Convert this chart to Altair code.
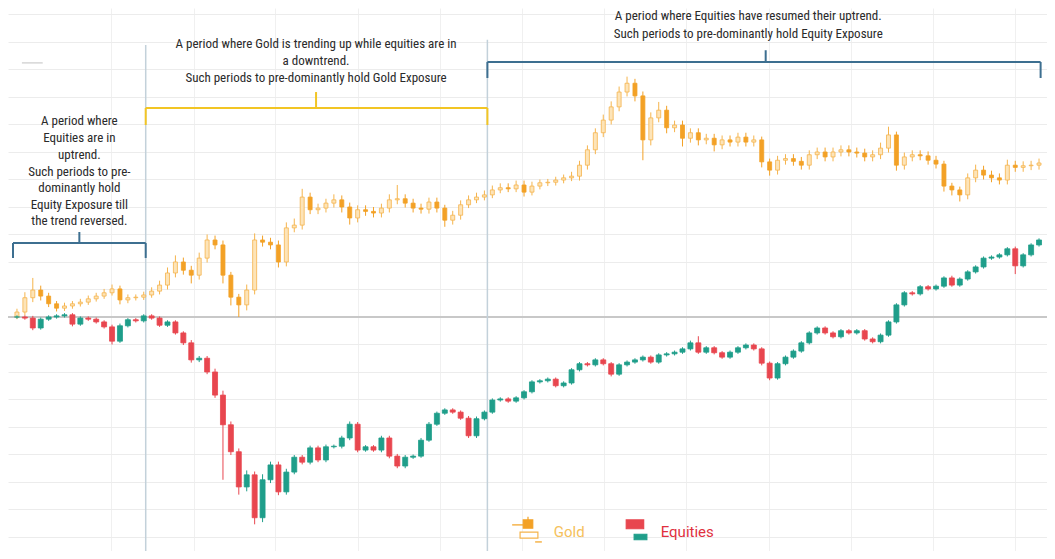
import altair as alt
import pandas as pd

# ---------------- data (percent change from common start) ----------------
gold_close = [
    0.9, 3.5, 4.9, 3.8, 2.4, 1.6, 2.0, 2.4, 2.7, 3.3,
    3.8, 4.4, 5.1, 3.1, 3.5, 3.6, 4.0, 4.7, 5.8, 8.0,
    10.0, 8.5, 7.6, 10.7, 14.0, 13.1, 7.6, 3.6, 2.2, 4.9,
    14.0, 13.6, 13.1, 10.0, 16.2, 16.7, 21.8, 19.5, 19.8, 20.7,
    21.3, 20.0, 18.0, 19.5, 19.2, 18.9, 19.8, 21.3, 21.5, 20.7,
    19.8, 19.6, 20.9, 19.8, 17.6, 18.5, 20.4, 21.3, 21.8, 22.2,
    23.1, 23.5, 23.3, 24.0, 22.7, 23.8, 24.4, 24.5, 24.9, 25.3,
    25.6, 27.6, 30.4, 33.5, 35.8, 38.2, 40.9, 42.5, 40.2, 32.2,
    36.2, 37.6, 34.4, 34.9, 32.5, 33.5, 32.2, 32.5, 31.3, 32.2,
    31.8, 32.7, 31.8, 32.2, 28.2, 26.7, 28.5, 28.8, 28.3, 27.6,
    29.5, 30.0, 29.1, 30.0, 30.4, 30.0, 29.8, 29.1, 29.5, 30.7,
    33.1, 27.6, 29.1, 29.5, 29.3, 28.5, 27.8, 23.8, 23.1, 22.2,
    25.3, 26.7, 25.8, 25.3, 24.9, 27.6, 27.2, 27.5, 27.6, 28.0,
]
gold_wick_up = [
    0.6, 1.0, 2.2, 0.8, 0.6, 0.5, 0.6, 0.5, 0.6, 0.6,
    0.6, 0.7, 0.8, 0.6, 0.6, 0.5, 0.6, 0.7, 0.8, 1.0,
    1.2, 0.8, 0.8, 1.0, 1.0, 0.8, 0.8, 0.6, 0.6, 1.0,
    1.2, 0.8, 0.8, 0.8, 1.0, 1.2, 1.5, 0.8, 0.8, 0.8,
    1.0, 0.8, 0.8, 0.8, 0.8, 0.8, 0.8, 1.0, 2.5, 0.8,
    0.8, 0.8, 0.8, 0.8, 0.6, 0.8, 0.8, 0.8, 0.8, 0.8,
    0.8, 0.8, 0.8, 0.8, 0.8, 0.8, 0.6, 0.6, 0.6, 0.6,
    0.8, 0.8, 0.8, 0.8, 1.0, 1.0, 1.0, 1.2, 0.8, 0.8,
    1.0, 1.5, 0.8, 0.8, 0.8, 0.8, 0.8, 0.8, 0.8, 0.8,
    0.8, 0.8, 0.8, 0.8, 0.6, 0.6, 0.8, 0.8, 0.8, 0.8,
    0.8, 0.8, 0.8, 0.8, 0.8, 0.8, 0.8, 0.8, 0.8, 1.0,
    1.5, 0.6, 0.8, 0.8, 0.8, 0.8, 0.8, 0.6, 0.6, 0.6,
    0.8, 1.0, 0.8, 0.8, 0.8, 1.0, 0.8, 0.8, 0.8, 0.8,
]
gold_wick_dn = [
    0.4, 0.6, 0.8, 0.8, 0.6, 0.6, 0.5, 0.5, 0.5, 0.5,
    0.5, 0.5, 0.5, 0.8, 0.6, 0.5, 0.5, 0.5, 0.6, 0.8,
    0.8, 0.8, 1.5, 0.8, 0.8, 0.8, 1.5, 1.5, 2.2, 1.0,
    0.8, 0.8, 0.8, 1.0, 0.8, 0.8, 0.8, 0.8, 0.8, 0.8,
    0.8, 1.0, 1.2, 0.8, 0.8, 0.8, 0.8, 0.8, 0.8, 0.8,
    0.8, 0.8, 0.8, 0.8, 1.2, 0.8, 0.8, 0.6, 0.6, 0.6,
    0.6, 0.6, 0.6, 0.6, 0.8, 0.6, 0.6, 0.6, 0.6, 0.6,
    0.6, 0.8, 0.8, 0.8, 0.8, 0.8, 0.8, 0.8, 1.0, 3.7,
    1.0, 0.8, 1.0, 0.8, 1.5, 0.8, 1.0, 0.8, 1.2, 0.8,
    0.8, 0.8, 0.8, 0.8, 1.0, 1.0, 0.8, 0.8, 0.8, 0.8,
    0.8, 0.8, 0.8, 0.8, 0.8, 0.8, 0.8, 0.8, 0.8, 0.8,
    0.8, 1.0, 0.8, 0.8, 0.8, 0.8, 0.8, 1.0, 1.0, 1.2,
    0.8, 0.8, 0.8, 0.8, 0.8, 0.8, 0.8, 0.8, 0.8, 0.8,
]

eq_close = [
    0.0, -0.2, -2.0, -0.4, 0.0, 0.2, 0.4, -1.3, -0.2, -0.4,
    -0.9, -1.8, -4.4, -1.6, -0.5, -0.7, 0.2, -0.2, -1.5, -0.9,
    -2.9, -4.7, -7.8, -7.5, -10.0, -14.2, -19.6, -24.5, -30.9, -28.7,
    -36.5, -29.6, -26.9, -31.8, -28.2, -25.5, -26.4, -23.8, -26.0, -23.6,
    -23.5, -22.0, -19.5, -24.2, -23.6, -24.2, -22.0, -25.3, -27.1, -25.5,
    -25.3, -22.4, -19.5, -17.5, -16.9, -17.3, -18.4, -21.6, -18.5, -17.3,
    -15.1, -14.9, -15.3, -14.7, -13.6, -11.8, -11.6, -11.3, -12.5, -12.0,
    -9.6, -8.5, -8.7, -7.8, -8.5, -10.4, -8.7, -8.2, -7.8, -7.3,
    -8.2, -6.9, -6.7, -6.4, -5.8, -4.7, -6.4, -5.6, -6.5, -7.3,
    -6.4, -5.6, -5.1, -5.8, -8.4, -11.1, -8.5, -7.3, -6.2, -4.7,
    -2.9, -2.0, -2.9, -3.6, -2.5, -2.9, -2.5, -4.0, -4.5, -3.3,
    -0.9, 2.2, 4.4, 4.2, 5.5, 5.1, 5.6, 7.1, 5.8, 6.9,
    8.2, 9.1, 10.7, 10.9, 11.3, 12.4, 9.3, 11.3, 13.1, 14.0,
]
eq_wick_up = [
    0.3, 0.3, 0.4, 0.3, 0.3, 0.3, 0.3, 0.3, 0.3, 0.3,
    0.3, 0.3, 0.4, 0.4, 0.3, 0.3, 0.3, 0.3, 0.3, 0.3,
    0.3, 0.3, 0.5, 0.4, 0.4, 0.6, 0.8, 0.6, 0.6, 0.8,
    0.6, 1.0, 0.6, 0.6, 0.6, 0.4, 0.4, 0.4, 0.4, 0.4,
    0.3, 0.4, 0.5, 0.4, 0.3, 0.3, 0.4, 0.4, 0.4, 0.4,
    0.3, 0.4, 0.4, 0.3, 0.3, 0.3, 0.3, 0.4, 0.4, 0.3,
    0.3, 0.3, 0.3, 0.3, 0.3, 0.3, 0.3, 0.3, 0.3, 0.3,
    0.3, 0.3, 0.3, 0.3, 0.3, 0.3, 0.3, 0.3, 0.3, 0.3,
    0.3, 0.3, 0.3, 0.3, 0.3, 0.4, 1.2, 0.3, 0.3, 0.3,
    0.3, 0.3, 0.3, 0.3, 0.3, 0.3, 0.3, 0.3, 0.3, 0.3,
    0.3, 0.3, 0.3, 0.3, 0.3, 0.3, 0.3, 0.3, 0.3, 0.3,
    0.3, 0.3, 0.3, 0.3, 0.3, 0.3, 0.3, 0.3, 0.4, 0.3,
    0.3, 0.3, 0.3, 0.3, 0.3, 0.3, 0.4, 0.3, 0.3, 0.3,
]
eq_wick_dn = [
    0.3, 0.3, 0.4, 0.3, 0.3, 0.3, 0.3, 0.4, 0.3, 0.3,
    0.3, 0.3, 0.6, 0.3, 0.3, 0.3, 0.3, 0.3, 0.3, 0.3,
    0.3, 0.4, 0.5, 0.4, 0.4, 0.5, 10.0, 0.6, 1.4, 0.8,
    1.2, 0.8, 0.6, 0.6, 0.5, 0.4, 0.4, 0.4, 0.4, 0.4,
    0.3, 0.4, 0.4, 0.4, 0.3, 0.3, 0.4, 0.4, 0.4, 0.4,
    0.3, 0.3, 0.3, 0.3, 0.3, 0.3, 0.3, 0.4, 0.4, 0.3,
    0.3, 0.3, 0.3, 0.3, 0.3, 0.3, 0.3, 0.3, 0.3, 0.3,
    0.3, 0.3, 0.3, 0.3, 0.3, 0.4, 0.3, 0.3, 0.3, 0.3,
    0.3, 0.3, 0.3, 0.3, 0.3, 0.3, 0.3, 0.3, 0.3, 0.3,
    0.3, 0.3, 0.3, 0.3, 0.4, 0.4, 0.3, 0.3, 0.3, 0.3,
    0.3, 0.3, 0.3, 0.3, 0.3, 0.3, 0.3, 0.3, 0.3, 0.3,
    0.3, 0.3, 0.3, 0.3, 0.3, 0.3, 0.3, 0.3, 0.3, 0.3,
    0.3, 0.3, 0.3, 0.3, 0.3, 0.3, 1.5, 0.3, 0.3, 0.3,
]
gold_start = 0.0
eq_start = 0.0

# period boundaries (candle index)
event_t = [16.25, 59.375]
event_top = [49.45, 50.4]

# annotation text
left_lines = ["A period where", "Equities are in", "uptrend.", "Such periods to pre-",
              "dominantly hold", "Equity Exposure till", "the trend reversed."]
left_y = [35.6, 32.5, 29.45, 26.4, 23.45, 20.4, 17.45]
mid_lines = ["A period where Gold is trending up while equities are in", "a downtrend.",
             "Such periods to pre-dominantly hold Gold Exposure"]
mid_y = [49.6, 46.5, 43.5]
right_lines = ["A period where Equities have resumed their uptrend.",
               "Such periods to pre-dominantly hold Equity Exposure"]
right_y = [54.7, 51.5]

# bracket geometry in data units: (x start, x end, bar level, end-tick level, centre, centre-tick level)
brackets = [
    (-0.5, 16.25, 13.45, 10.73, 7.875, 15.45, "#3d6f90"),
    (16.25, 59.375, 38.0, 34.9, 37.75, 40.9, "#f2c524"),
    (59.375, 129.2, 46.36, 43.45, 94.5, 48.5, "#3d6f90"),
]

GOLD_UP_FILL = "#fde4b8"
GOLD_EDGE = "#f5b44c"
GOLD_DOWN = "#f3a126"
EQ_UP = "#1f9e8a"
EQ_DOWN = "#e8464f"

KINDS = ["Gold up", "Gold down", "Equities up", "Equities down"]
FILL_RANGE = [GOLD_UP_FILL, GOLD_DOWN, EQ_UP, EQ_DOWN]
EDGE_RANGE = [GOLD_EDGE, GOLD_DOWN, EQ_UP, EQ_DOWN]


def candles(close, wu, wd, start, name):
    opens = [start] + close[:-1]
    rows = []
    for i, (o, c, u, d) in enumerate(zip(opens, close, wu, wd)):
        rows.append(dict(t=i, open=o, close=c, high=max(o, c) + u,
                         low=min(o, c) - d,
                         kind=name + (" up" if c >= o else " down")))
    return pd.DataFrame(rows)


gold = candles(gold_close, gold_wick_up, gold_wick_dn, gold_start, "Gold")
eq = candles(eq_close, eq_wick_up, eq_wick_dn, eq_start, "Equities")

W, H = 1039, 543
YMIN, YMAX = -42.55, 56.18
XMIN = -0.5
XMAX = XMIN + W / 8.0
xs = alt.Scale(domain=[XMIN, XMAX], nice=False, zero=False)
ys = alt.Scale(domain=[YMIN, YMAX], nice=False, zero=False)
grid_x = [11.9, 22.3, 32.6, 43.0, 53.4, 63.8, 74.1, 84.5, 94.9, 105.3, 115.6, 126.0]
grid_y = list(range(-40, 56, 5))
xaxis = alt.Axis(labels=False, ticks=False, domain=False, grid=True, title=None,
                 values=grid_x, gridColor="#f0f0f0", gridWidth=1)
yaxis = alt.Axis(labels=False, ticks=False, domain=False, grid=True, title=None,
                 values=grid_y, gridColor="#ececec", gridWidth=1)

fill_scale = alt.Scale(domain=KINDS, range=FILL_RANGE)
edge_scale = alt.Scale(domain=KINDS, range=EDGE_RANGE)


def X(f):
    return alt.X(f, type="quantitative", scale=xs, axis=xaxis)


def Y(f):
    return alt.Y(f, type="quantitative", scale=ys, axis=yaxis)


layers = []

# zero line
zero_df = pd.DataFrame({"v": [0.0]})
layers.append(alt.Chart(zero_df).mark_rule(color="#c8c8c8", strokeWidth=2).encode(y=Y("v")))

# faint dash at top-left
dash_df = pd.DataFrame({"x": [0.625], "x2": [3.25], "y": [46.2]})
layers.append(alt.Chart(dash_df).mark_rule(color="#d6d6d6", strokeWidth=1.5).encode(
    x=X("x"), x2="x2", y=Y("y")))

# period boundary lines
ev_df = pd.DataFrame({"t": event_t, "top": event_top, "bot": [YMIN, YMIN]})
layers.append(alt.Chart(ev_df).mark_rule(color="#c3d1da", strokeWidth=1.5).encode(
    x=X("t"), y=Y("top"), y2="bot"))


def candle_layers(df, size):
    wick = alt.Chart(df).mark_rule(strokeWidth=1).encode(
        x=X("t"), y=Y("low"), y2="high",
        stroke=alt.Stroke("kind:N", scale=edge_scale, legend=None))
    body = alt.Chart(df).mark_bar(size=size, strokeWidth=0.8).encode(
        x=X("t"), y=Y("open"), y2="close",
        fill=alt.Fill("kind:N", scale=fill_scale, legend=None),
        stroke=alt.Stroke("kind:N", scale=edge_scale, legend=None))
    return [wick, body]


layers += candle_layers(gold, 4)
layers += candle_layers(eq, 5)

# brackets
segs = []
for x0, x1, lvl, endl, xc, cl, col in brackets:
    segs.append(dict(x=x0, x2=x1, y=lvl, y2=lvl, c=col))
    segs.append(dict(x=x0, x2=x0, y=lvl, y2=endl, c=col))
    segs.append(dict(x=x1, x2=x1, y=lvl, y2=endl, c=col))
    segs.append(dict(x=xc, x2=xc, y=lvl, y2=cl, c=col))
seg_df = pd.DataFrame(segs)
layers.append(alt.Chart(seg_df).mark_rule(strokeWidth=2).encode(
    x=X("x"), x2="x2", y=Y("y"), y2="y2", color=alt.Color("c:N", scale=None)))

# annotation texts
txt_rows = []
for s, v in zip(left_lines, left_y):
    txt_rows.append(dict(x=7.875, y=v, s=s))
for s, v in zip(mid_lines, mid_y):
    txt_rows.append(dict(x=37.75, y=v, s=s))
for s, v in zip(right_lines, right_y):
    txt_rows.append(dict(x=92.3, y=v, s=s))
txt_df = pd.DataFrame(txt_rows)
FONT = "Liberation Sans Narrow, Roboto Condensed, DejaVu Sans Condensed, Open Sans, sans-serif"
layers.append(alt.Chart(txt_df).mark_text(font=FONT, fontSize=13, color="#2a2a2a",
                                          align="center", baseline="middle").encode(
    x=X("x"), y=Y("y"), text="s:N"))

# legend (drawn inside plot, bottom centre)
leg_rects = pd.DataFrame([
    dict(x=63.9, x2=65.1, y=-36.9, y2=-38.4, f=GOLD_DOWN, s=GOLD_DOWN),
    dict(x=63.5, x2=65.75, y=-39.1, y2=-40.2, f="#ffffff", s=GOLD_EDGE),
    dict(x=76.9, x2=79.1, y=-36.9, y2=-38.5, f=EQ_DOWN, s=EQ_DOWN),
    dict(x=77.9, x2=79.5, y=-39.5, y2=-40.5, f=EQ_UP, s=EQ_UP),
])
leg_lines = pd.DataFrame([
    dict(x=62.5, x2=63.9, y=-37.8, y2=-37.8, c=GOLD_EDGE),
    dict(x=65.4, x2=66.25, y=-40.9, y2=-40.9, c=GOLD_EDGE),
    dict(x=64.5, x2=64.5, y=-36.3, y2=-36.9, c=GOLD_EDGE),
])
leg_text = pd.DataFrame([
    dict(x=67.75, y=-39.1, s="Gold", c="#f5c15c"),
    dict(x=81.25, y=-39.1, s="Equities", c="#e0303e"),
])
layers.append(alt.Chart(leg_lines).mark_rule(strokeWidth=1.5).encode(
    x=X("x"), x2="x2", y=Y("y"), y2="y2", color=alt.Color("c:N", scale=None)))
layers.append(alt.Chart(leg_rects).mark_rect(strokeWidth=1.2).encode(
    x=X("x"), x2="x2", y=Y("y"), y2="y2",
    fill=alt.Fill("f:N", scale=None), stroke=alt.Stroke("s:N", scale=None)))
layers.append(alt.Chart(leg_text).mark_text(font="Roboto, Noto Sans, sans-serif", fontSize=15,
                                            align="left", baseline="middle").encode(
    x=X("x"), y=Y("y"), text="s:N", color=alt.Color("c:N", scale=None)))

chart = alt.layer(*layers).properties(
    width=W, height=H, padding=0,
    autosize=alt.AutoSizeParams(type="none"),
    background="#ffffff",
).resolve_scale(color="independent", fill="independent", stroke="independent").configure_view(stroke=None)

chart.save("out.html", embed_options={"renderer": "svg", "actions": False})
